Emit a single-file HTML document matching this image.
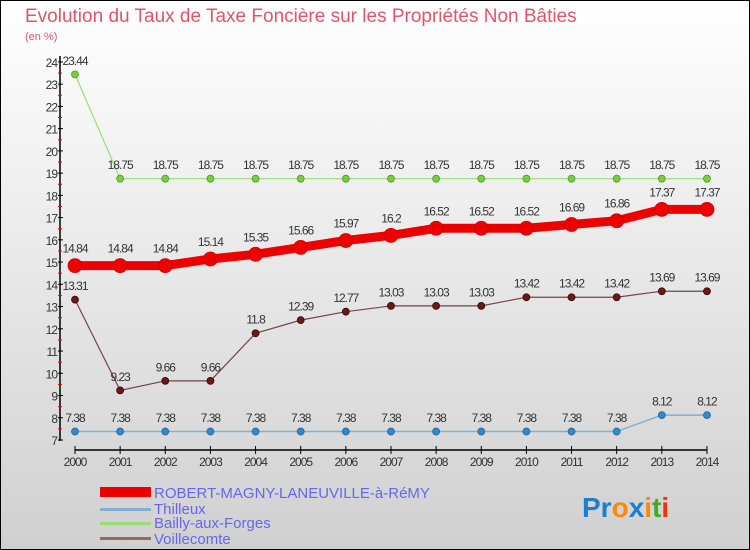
<!DOCTYPE html>
<html><head><meta charset="utf-8"><style>
body{margin:0}
svg{display:block;font-family:"Liberation Sans",sans-serif}
</style></head><body>
<svg width="750" height="550" xmlns="http://www.w3.org/2000/svg">
<defs><linearGradient id="bg" x1="0" y1="0" x2="0" y2="1"><stop offset="0" stop-color="#ffffff"/><stop offset="1" stop-color="#d0d0d0"/></linearGradient></defs>
<rect x="0.5" y="0.5" width="749" height="549" fill="url(#bg)" stroke="#000"/>
<text x="25" y="22" font-size="19" fill="#e0556a">Evolution du Taux de Taxe Foncière sur les Propriétés Non Bâties</text>
<text x="25" y="40" font-size="11" fill="#e0556a">(en %)</text>
<g id="axes"></g><g id="series"></g>
<g>
<rect x="100" y="487" width="51" height="10" fill="#ee0000"/>
<text x="154" y="498" font-size="15" fill="#6666ee">ROBERT-MAGNY-LANEUVILLE-à-RéMY</text>
<rect x="100" y="508" width="51" height="3" fill="#7fb0d0"/>
<text x="154" y="514" font-size="15" fill="#6666ee">Thilleux</text>
<rect x="100" y="522" width="51" height="3" fill="#99dd77"/>
<text x="154" y="528" font-size="15" fill="#6666ee">Bailly-aux-Forges</text>
<rect x="100" y="537" width="51" height="3" fill="#996666"/>
<text x="154" y="544" font-size="15" fill="#6666ee">Voillecomte</text>
</g>
<g font-size="28" font-weight="bold">
<text x="582" y="517"><tspan fill="#1a7fd0">Pr</tspan><tspan fill="#ff8800">o</tspan><tspan fill="#1a7fd0">x</tspan><tspan fill="#ff8800">i</tspan><tspan fill="#44aa22">t</tspan><tspan fill="#ee3300">i</tspan></text>
</g>
</svg>
<script>
const years=[2000,2001,2002,2003,2004,2005,2006,2007,2008,2009,2010,2011,2012,2013,2014];
const robert=[14.84,14.84,14.84,15.14,15.35,15.66,15.97,16.2,16.52,16.52,16.52,16.69,16.86,17.37,17.37];
const thilleux=[7.38,7.38,7.38,7.38,7.38,7.38,7.38,7.38,7.38,7.38,7.38,7.38,7.38,8.12,8.12];
const bailly=[23.44,18.75,18.75,18.75,18.75,18.75,18.75,18.75,18.75,18.75,18.75,18.75,18.75,18.75,18.75];
const voillecomte=[13.31,9.23,9.66,9.66,11.8,12.39,12.77,13.03,13.03,13.03,13.42,13.42,13.42,13.69,13.69];
const yTicks=[7,8,9,10,11,12,13,14,15,16,17,18,19,20,21,22,23,24];
const NS="http://www.w3.org/2000/svg";
const X=i=>75+i*45.14, Y=v=>440-(v-7)*22.24;
function mk(t,a,p){const e=document.createElementNS(NS,t);for(const k in a)e.setAttribute(k,a[k]);p.appendChild(e);return e;}
const ax=document.getElementById('axes');
let l=mk('line',{x1:60,y1:56,x2:60,y2:441,stroke:'#000','stroke-width':1.5},ax);

yTicks.forEach(v=>{mk('line',{x1:58,y1:Y(v),x2:63,y2:Y(v),stroke:'#000'},ax);
 if(v<24)mk('line',{x1:58,y1:Y(v+0.5),x2:62,y2:Y(v+0.5),stroke:'#e00'},ax);
 const t=mk('text',{x:57,y:Y(v)+5,'text-anchor':'end','font-size':12,fill:'#333','letter-spacing':'-1'},ax);t.textContent=v;
 });
l=mk('line',{x1:75,y1:450,x2:707,y2:450,stroke:'#000','stroke-width':1.5},ax);

years.forEach((y,i)=>{mk('line',{x1:X(i),y1:446,x2:X(i),y2:454,stroke:'#000'},ax);
 const t=mk('text',{x:X(i),y:466,'text-anchor':'middle','font-size':12,fill:'#333','letter-spacing':'-1'},ax);t.textContent=y;
 });
const sg=document.getElementById('series');
function draw(vals,name,color,w,r,dot,dotStroke){
 const g=mk('g',{},sg);
 mk('polyline',{points:vals.map((v,i)=>X(i)+','+Y(v)).join(' '),fill:'none',stroke:color,'stroke-width':w},g);
 vals.forEach((v,i)=>{const c=mk('circle',{cx:X(i),cy:Y(v),r:r,fill:dot,stroke:dotStroke,'stroke-width':0.8},g);
  
  const t=mk('text',{x:X(i),y:Y(v)-(r+6),'text-anchor':'middle','font-size':12,fill:'#333','letter-spacing':'-1'},g);t.textContent=v;
  });
}
draw(bailly,'bailly','#99dd77',1.2,3.5,'#77cc44','#559922');
draw(voillecomte,'voillecomte','#774444',1.2,3.5,'#661a1a','#440000');
draw(thilleux,'thilleux','#7fb0d0',1.5,3.5,'#3388cc','#226699');
draw(robert,'robert','#ee0000',9,7,'#ee0000','#cc0000');
</script>
</body></html>
